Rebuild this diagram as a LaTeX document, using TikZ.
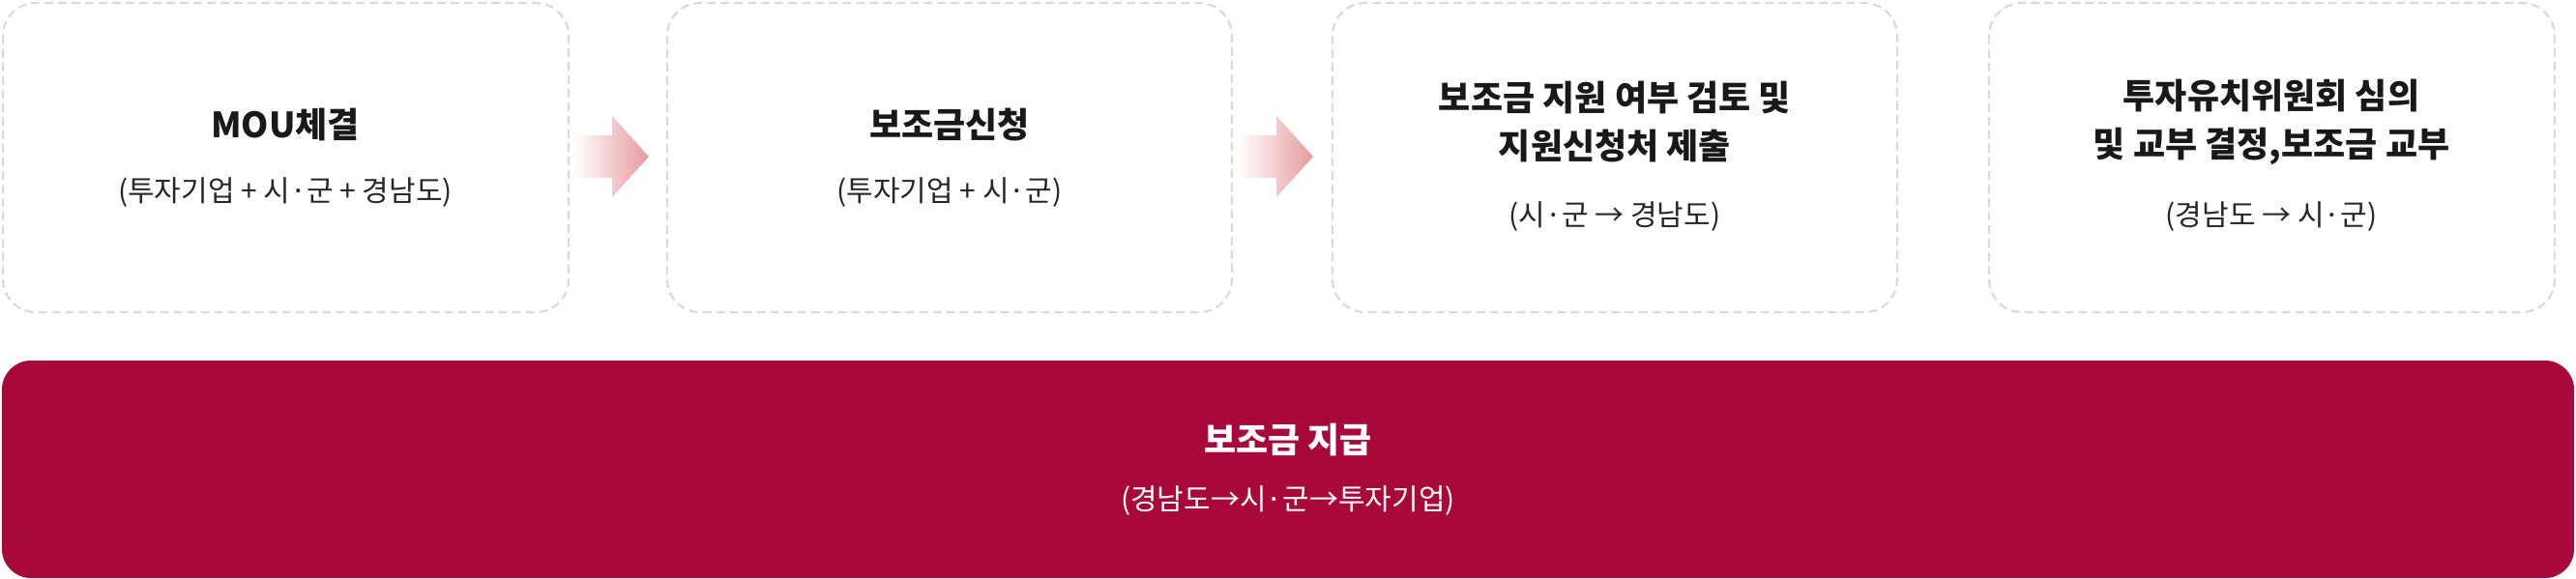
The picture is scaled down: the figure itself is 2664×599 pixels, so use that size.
\documentclass[tikz,border=0pt]{standalone}
\usepackage{fontspec}
\setmainfont{Noto Sans CJK KR}
\newfontfamily\krbold{Noto Sans CJK KR Bold}
\definecolor{barred}{HTML}{A8083A}
\definecolor{dashgray}{HTML}{DADADA}
\definecolor{arrowpink}{HTML}{E49A9E}
\begin{document}
\begin{tikzpicture}[x=1pt,y=-1pt,
  card/.style={draw=dashgray,line width=2.2pt,dash pattern=on 9pt off 5pt,rounded corners=34pt,fill=white},
  ttl/.style={font=\fontsize{36}{50}\selectfont\bfseries,align=center,text=black!90},
  sub/.style={font=\fontsize{30}{40}\selectfont,align=center,text=black!85},
  flowarrow/.style={left color=white,right color=arrowpink,draw=none}]
\useasboundingbox (0,0) rectangle (2664,599);
\fill[white] (0,0) rectangle (2664,599);
\draw[card] (3,3) rectangle (588,323);
\draw[card] (690,3) rectangle (1274,323);
\draw[card] (1378,3) rectangle (1962,323);
\draw[card] (2057,3) rectangle (2642,323);
\fill[barred,rounded corners=30pt] (2,373) rectangle (2662,598);
\shade[flowarrow] (593,140) -- (633,140) -- (633,120) -- (671,162) -- (633,204) -- (633,184) -- (593,184) -- cycle;
\shade[flowarrow] (1280,140) -- (1320,140) -- (1320,120) -- (1358,162) -- (1320,204) -- (1320,184) -- (1280,184) -- cycle;
\node[ttl] (t1) at (295,129) {MOU체결};
\node[sub] (s1) at (295,199) {(투자기업 + 시·군 + 경남도)};
\node[ttl] (t2) at (982,129) {보조금신청};
\node[sub] (s2) at (982,199) {(투자기업 + 시·군)};
\node[ttl] (t3) at (1670,126) {보조금 지원 여부 검토 및\\지원신청처 제출};
\node[sub] (s3) at (1670,224) {(시·군 → 경남도)};
\node[ttl] (t4) at (2349,126) {투자유치위원회 심의\\및 교부 결정,보조금 교부};
\node[sub] (s4) at (2349,224) {(경남도 → 시·군)};
\node[ttl,text=white] (t5) at (1332,455) {보조금 지급};
\node[sub,text=white] (s5) at (1332,518) {(경남도→시·군→투자기업)};
\end{tikzpicture}
\end{document}
